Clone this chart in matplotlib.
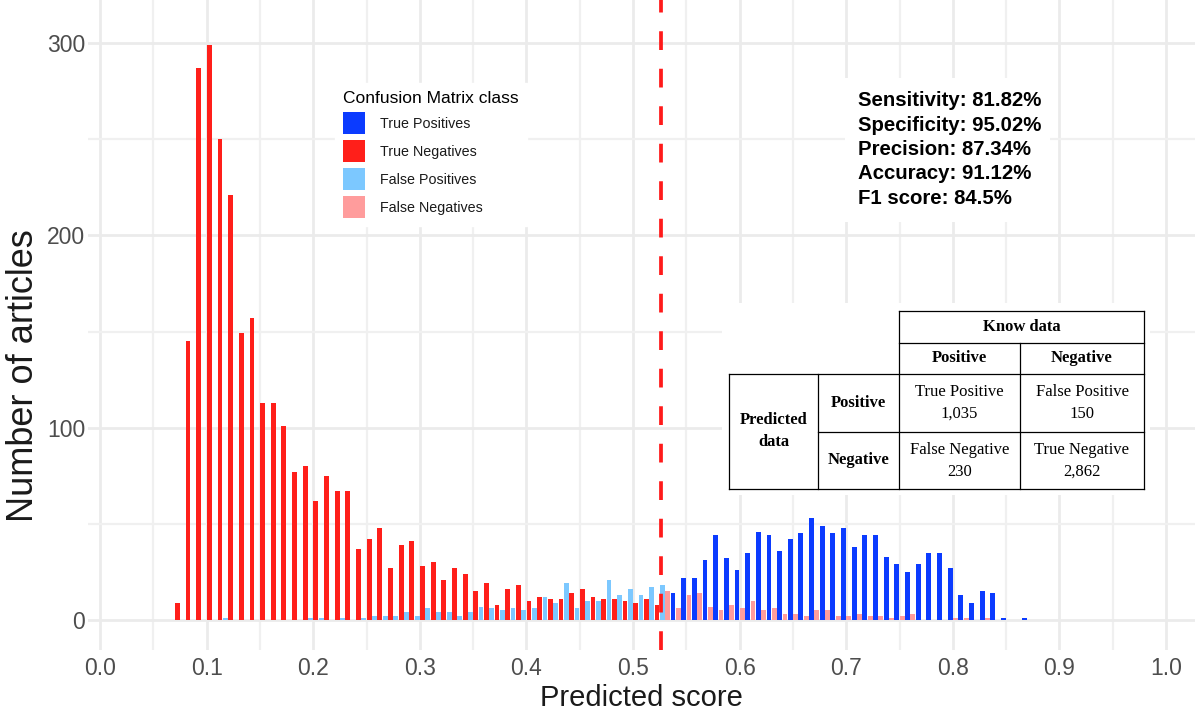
import numpy as np
import matplotlib
matplotlib.use("Agg")
import matplotlib.pyplot as plt
from matplotlib.patches import Patch, Rectangle
from matplotlib.lines import Line2D

plt.rcParams['font.family'] = ['Liberation Sans', 'DejaVu Sans']

# histogram bins: left edges, width 0.01
bin_width = 0.01
bin_left = np.round(0.07 + bin_width * np.arange(80), 2)

# counts per bin (left of threshold: TN / FP, right of threshold: TP / FN)
true_neg = [9, 145, 287, 299, 250, 221, 149, 157, 113, 113, 101, 77, 80, 62, 75, 67,
            67, 37, 42, 48, 27, 39, 41, 28, 30, 21, 27, 24, 15, 19, 8, 16, 18, 10,
            12, 11, 11, 14, 16, 12, 11, 11, 10, 9, 11, 8] + [0] * 34
false_pos = [0, 0, 0, 0, 1, 0, 0, 0, 0, 0, 0, 0, 1, 1, 0, 1, 0, 1, 2, 2, 2, 4, 2, 6,
             4, 4, 2, 4, 7, 6, 5, 6, 5, 6, 12, 9, 19, 6, 10, 10, 21, 13, 16, 13,
             17, 18] + [0] * 34
true_pos = [0] * 46 + [14, 22, 22, 31, 44, 32, 26, 35, 46, 44, 36, 42, 45, 53, 49, 45,
                       48, 38, 44, 44, 33, 29, 25, 29, 35, 35, 27, 13, 9, 15, 14, 1, 0, 1]
false_neg = [0] * 46 + [15, 6, 13, 14, 7, 5, 8, 6, 10, 5, 6, 3, 3, 2, 5, 5, 2, 2, 3, 2,
                        2, 1, 2, 3, 0, 0, 0, 1, 1, 0, 1, 0, 0, 0]
threshold = 0.526

classes = ["True Positives", "True Negatives", "False Positives", "False Negatives"]
colors = {"True Positives": "#0B3BFF", "True Negatives": "#FF1F1A",
          "False Positives": "#7CC8FF", "False Negatives": "#FF9C9C"}

metrics = ["Sensitivity: 81.82%", "Specificity: 95.02%", "Precision: 87.34%",
           "Accuracy: 91.12%", "F1 score: 84.5%"]

W, H = 1195, 715
fig = plt.figure(figsize=(W / 100, H / 100), dpi=100)


def fx(px):
    return px / W


def fy(py):
    return 1 - py / H


ax = fig.add_axes([fx(88), fy(650), fx(1195 - 88), 650 / H])
ax.set_facecolor("white")

left_c = bin_left + bin_width * 0.25
right_c = bin_left + bin_width * 0.75
bw = bin_width * 0.45
ax.bar(left_c, false_neg, width=bw, color=colors["False Negatives"], zorder=3)
ax.bar(left_c, true_neg, width=bw, color=colors["True Negatives"], zorder=3)
ax.bar(right_c, false_pos, width=bw, color=colors["False Positives"], zorder=3)
ax.bar(right_c, true_pos, width=bw, color=colors["True Positives"], zorder=3)

ax.axvline(threshold, color="#FF1A1A", lw=2.7, linestyle=(0, (5, 5)), zorder=4)

ax.set_xlim((88 - 100) / 1066, (1195 - 100) / 1066)
ax.set_ylim(-(650 - 620) / 1.9233, 620 / 1.9233)
ax.set_xticks(np.arange(0, 1.01, 0.1))
ax.set_xticklabels([f"{v:.1f}" for v in np.arange(0, 1.01, 0.1)])
ax.set_xticks(np.arange(0.05, 1.0, 0.1), minor=True)
ax.set_yticks([0, 100, 200, 300])
ax.set_yticks([50, 150, 250], minor=True)
ax.tick_params(which="both", length=0)
ax.tick_params(labelsize=16.5, labelcolor="#4D4D4D")
ax.tick_params(axis="x", pad=5)
ax.tick_params(axis="y", pad=2)
ax.grid(which="major", color="#EBEBEB", lw=2.0, zorder=0)
ax.grid(which="minor", color="#F0F0F0", lw=1.6, zorder=0)
ax.set_axisbelow(True)
for s in ax.spines.values():
    s.set_visible(False)

ax.set_xlabel("Predicted score", fontsize=21, color="#1A1A1A", labelpad=3)
ax.set_ylabel("Number of articles", fontsize=26, color="#1A1A1A")
ax.yaxis.set_label_coords((41 - 88) / 1107, (650 - 376) / 650)

# legend
handles = [Patch(facecolor=colors[c], edgecolor="none") for c in classes]
leg = fig.legend(handles, classes, title="Confusion Matrix class",
                 loc="upper left", bbox_to_anchor=(fx(335), fy(83)),
                 frameon=True, fancybox=False, framealpha=1, edgecolor="white",
                 fontsize=10.3, title_fontsize=12.5, handlelength=1.54,
                 handleheight=1.99, labelspacing=0.42, handletextpad=1.05,
                 borderpad=0.56, borderaxespad=0, alignment="left")
for t in leg.get_texts():
    t.set_color("#1A1A1A")

# metrics box
fig.patches.append(Rectangle((fx(845), fy(222)), fx(205), 144 / H,
                             transform=fig.transFigure, facecolor="white",
                             edgecolor="none", zorder=5))
for i, m in enumerate(metrics):
    fig.text(fx(858), fy(101 + 24.3 * i), m, fontsize=14.7, fontweight="bold",
             va="center", ha="left", color="black", zorder=6)

# confusion matrix table
fig.patches.append(Rectangle((fx(722), fy(495)), fx(428), 192 / H,
                             transform=fig.transFigure, facecolor="white",
                             edgecolor="none", zorder=5))
xs = [729, 818, 899, 1020, 1144]
ys = [311, 343, 374, 432, 489]
segs = [((xs[2], ys[0]), (xs[4], ys[0])), ((xs[2], ys[1]), (xs[4], ys[1])),
        ((xs[0], ys[2]), (xs[4], ys[2])), ((xs[1], ys[3]), (xs[4], ys[3])),
        ((xs[0], ys[4]), (xs[4], ys[4])),
        ((xs[0], ys[2]), (xs[0], ys[4])), ((xs[1], ys[2]), (xs[1], ys[4])),
        ((xs[2], ys[0]), (xs[2], ys[4])), ((xs[3], ys[1]), (xs[3], ys[4])),
        ((xs[4], ys[0]), (xs[4], ys[4]))]
for (x0, y0), (x1, y1) in segs:
    fig.add_artist(Line2D([fx(x0), fx(x1)], [fy(y0), fy(y1)], color="black",
                          lw=0.9, transform=fig.transFigure, zorder=6))

serif = ["Liberation Serif", "DejaVu Serif"]
cells = [
    ((xs[2] + xs[4]) / 2, (ys[0] + ys[1]) / 2, "Know data", "bold"),
    ((xs[2] + xs[3]) / 2, (ys[1] + ys[2]) / 2, "Positive", "bold"),
    ((xs[3] + xs[4]) / 2, (ys[1] + ys[2]) / 2, "Negative", "bold"),
    ((xs[0] + xs[1]) / 2, (ys[2] + ys[4]) / 2, "Predicted\ndata", "bold"),
    ((xs[1] + xs[2]) / 2, (ys[2] + ys[3]) / 2, "Positive", "bold"),
    ((xs[1] + xs[2]) / 2, (ys[3] + ys[4]) / 2, "Negative", "bold"),
    ((xs[2] + xs[3]) / 2, (ys[2] + ys[3]) / 2, "True Positive\n1,035", "normal"),
    ((xs[3] + xs[4]) / 2, (ys[2] + ys[3]) / 2, "False Positive\n150", "normal"),
    ((xs[2] + xs[3]) / 2, (ys[3] + ys[4]) / 2, "False Negative\n230", "normal"),
    ((xs[3] + xs[4]) / 2, (ys[3] + ys[4]) / 2, "True Negative\n2,862", "normal"),
]
for cx, cy, txt, wt in cells:
    fig.text(fx(cx), fy(cy), txt, ha="center", va="center", fontsize=12,
             fontweight=wt, family=serif, linespacing=1.5, zorder=7)

fig.savefig("out.png", dpi=100)
